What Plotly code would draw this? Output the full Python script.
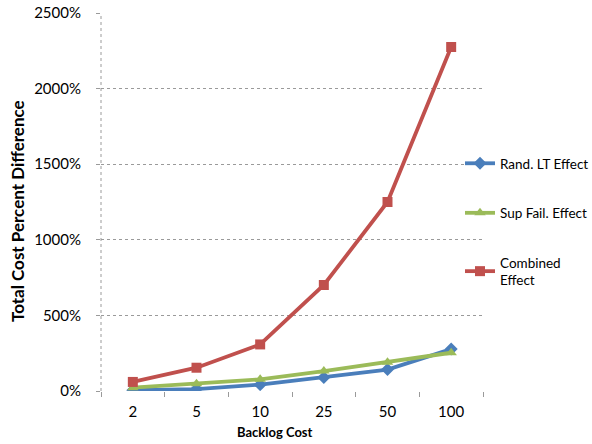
import plotly.graph_objects as go

backlog_cost = ["2", "5", "10", "25", "50", "100"]
rand_lt = [5, 13, 42, 89, 142, 277]
sup_fail = [22, 48, 77, 132, 190, 253]
combined = [60, 154, 308, 701, 1250, 2275]
y_ticks = [0, 500, 1000, 1500, 2000, 2500]
y_tick_labels = ["0%", "500%", "1000%", "1500%", "2000%", "2500%"]

FONT = "Lato"
W, H = 592, 444
L, R, T, B = 101, 109, 13, 53

fig = go.Figure()
series = [
    ("Rand. LT Effect", rand_lt, "#4A7EBB", "diamond", 10),
    ("Sup Fail. Effect", sup_fail, "#9BBB59", "triangle-up", 10),
    ("Combined<br>Effect", combined, "#C0504D", "square", 10),
]
for name, vals, color, sym, size in series:
    fig.add_trace(go.Scatter(
        x=backlog_cost, y=vals, name=name, mode="lines+markers",
        line=dict(color=color, width=3.8),
        marker=dict(symbol=sym, size=size, color=color),
        legendgroup=name,
    ))

# dotted left axis line
fig.add_shape(type="line", xref="paper", yref="paper", x0=0, x1=0, y0=0, y1=1,
              line=dict(color="#9a9a9a", width=1, dash="dot"))

fig.update_layout(
    width=W, height=H,
    margin=dict(l=L, r=R, t=T, b=B, autoexpand=False),
    paper_bgcolor="white", plot_bgcolor="white",
    font=dict(family=FONT, color="#000000"),
    showlegend=True,
    legend=dict(xref="container", yref="container",
                x=460 / W, xanchor="left", y=1 - 148 / H, yanchor="top",
                font=dict(size=13.5, family=FONT), tracegroupgap=29,
                bgcolor="rgba(0,0,0,0)"),
    xaxis=dict(
        type="category", tickson="boundaries", ticks="outside", ticklen=5,
        tickcolor="#9a9a9a", showgrid=False, showline=False, automargin=False,
        tickfont=dict(size=15, family=FONT), range=[-0.5, 5.5],
        ticklabelstandoff=10,
    ),
    yaxis=dict(
        range=[0, 2500], tickvals=y_ticks, ticktext=y_tick_labels,
        ticks="outside", ticklen=4, tickcolor="#9a9a9a", automargin=False,
        showgrid=True, gridcolor="#9a9a9a", griddash="dot", gridwidth=1,
        zeroline=False, showline=False,
        tickfont=dict(size=15, family=FONT), ticklabelstandoff=12,
    ),
)

fig.add_annotation(text="<b>Total Cost Percent Difference</b>", textangle=-90,
                   xref="paper", yref="paper",
                   x=-(L - 17) / (W - L - R), y=(H - B - 211) / (H - T - B),
                   showarrow=False, font=dict(size=17, family=FONT),
                   xanchor="center", yanchor="middle")
fig.add_annotation(text="<b>Backlog Cost</b>", xref="paper", yref="paper",
                   x=(275 - L) / (W - L - R), y=-(432 - (H - B)) / (H - T - B),
                   showarrow=False, font=dict(size=13, family=FONT),
                   xanchor="center", yanchor="middle")

fig.write_html("out.html")
